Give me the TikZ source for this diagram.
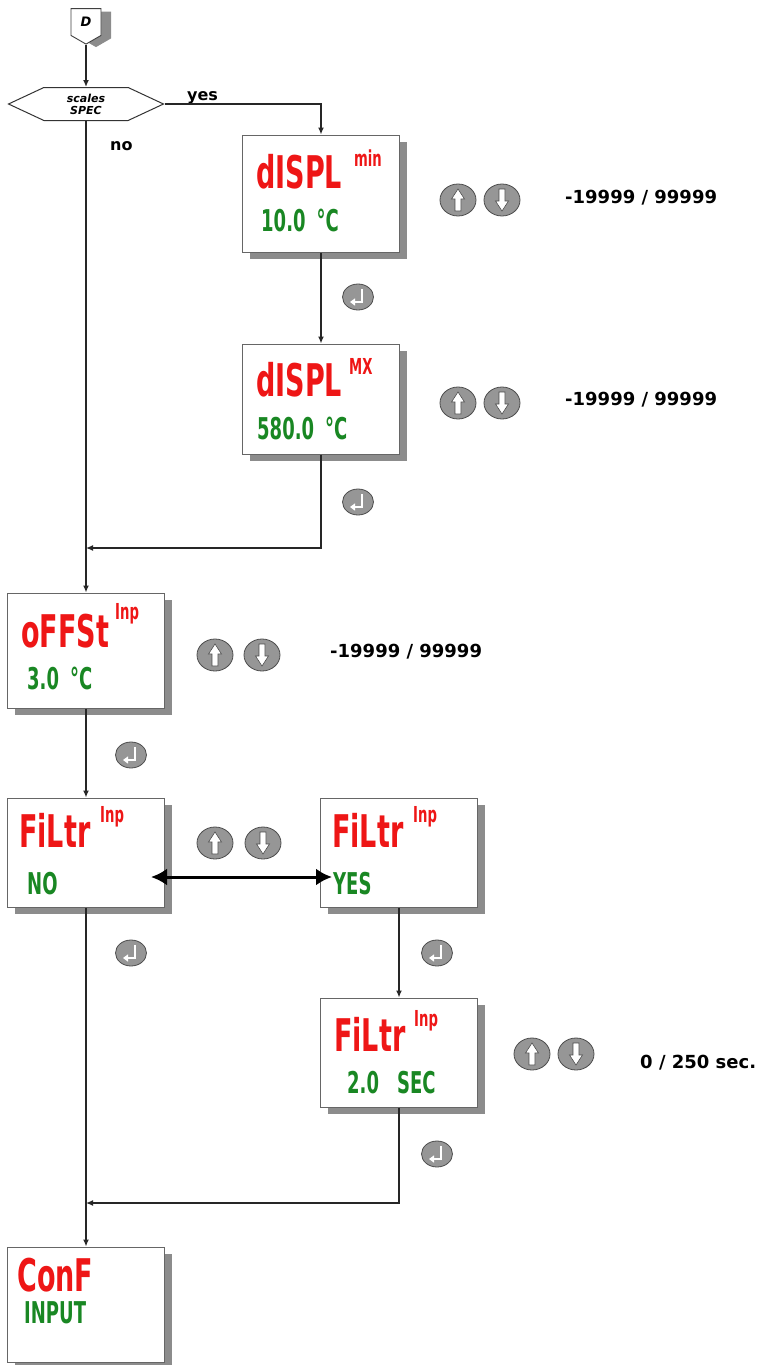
\documentclass[tikz,border=0pt]{standalone}
\usepackage{fontspec}
\setmainfont{DejaVu Sans}
\newfontfamily\lcd[FakeStretch=0.6]{DejaVu Sans}
\usetikzlibrary{arrows.meta,shapes.geometric,shapes.symbols,shadows}

\definecolor{lcdred}{RGB}{238,22,22}
\definecolor{lcdgreen}{RGB}{25,135,35}
\definecolor{btngray}{RGB}{150,150,150}

\tikzset{
  panel/.style={draw=black!60, line width=1pt, fill=white, minimum width=157pt, minimum height=#1, inner sep=0pt,
    drop shadow={shadow xshift=7pt, shadow yshift=-7pt, fill=black!45, opacity=1}},
  lcdtitle/.style={anchor=base west, inner sep=0pt, text=lcdred, font=\lcd\bfseries\fontsize{45}{45}\selectfont},
  lcdtag/.style={anchor=base west, inner sep=0pt, text=lcdred, font=\lcd\bfseries\fontsize{22}{22}\selectfont},
  reading/.style={anchor=base west, inner sep=0pt, text=lcdgreen, font=\lcd\bfseries\fontsize{30}{30}\selectfont},
  rangetxt/.style={anchor=base west, inner sep=0pt, font=\bfseries\fontsize{18}{18}\selectfont},
  answer/.style={anchor=base west, inner sep=0pt, font=\bfseries\fontsize{16}{16}\selectfont},
  btn/.style={ellipse, draw=black!70, line width=0.8pt, fill=btngray, minimum width=36pt, minimum height=32pt, inner sep=0pt},
  btnup/.style={btn, path picture={
      \draw[fill=white, draw=black!70, line width=0.6pt, shift={(path picture bounding box.center)}]
      (-3pt,-11pt) -- (3pt,-11pt) -- (3pt,1pt) -- (6.5pt,1pt) -- (0pt,11pt)
      -- (-6.5pt,1pt) -- (-3pt,1pt) -- cycle;}},
  btndown/.style={btn, path picture={
      \draw[fill=white, draw=black!70, line width=0.6pt, shift={(path picture bounding box.center)}]
      (-3pt,11pt) -- (3pt,11pt) -- (3pt,-1pt) -- (6.5pt,-1pt) -- (0pt,-11pt)
      -- (-6.5pt,-1pt) -- (-3pt,-1pt) -- cycle;}},
  enterbtn/.style={ellipse, draw=black!70, line width=0.8pt, fill=btngray, minimum width=31pt, minimum height=26pt, inner sep=0pt,
    path picture={
      \draw[white, line width=2pt, -{Triangle[length=5pt,width=7pt]}, shift={(path picture bounding box.center)}]
      (4pt,8pt) -- (4pt,-5pt) -- (-8pt,-5pt);}},
  conn/.style={signal, signal to=south, signal pointer angle=120, draw=black!75, line width=0.9pt, fill=white,
    minimum width=30pt, minimum height=30pt, inner sep=0pt,
    font=\bfseries\itshape\fontsize{13}{13}\selectfont,
    drop shadow={shadow xshift=10pt, shadow yshift=-3pt, fill=black!45, opacity=1}},
  decision/.style={signal, signal to=west and east, signal pointer angle=50, draw=black!80, line width=1pt, fill=white,
    minimum width=155pt, minimum height=33pt, inner sep=1pt, align=center,
    font=\bfseries\itshape\fontsize{11}{12}\selectfont},
  flow/.style={draw=black!85, line width=1.3pt, -{Latex[length=7pt,width=6pt]}},
  toggle/.style={line width=3pt, {Latex[length=16pt,width=17pt]}-{Latex[length=16pt,width=17pt]}}
}

\begin{document}
\begin{tikzpicture}[x=1pt, y=-1pt]

  \pgfmathsetmacro{\colL}{86}
  \pgfmathsetmacro{\colM}{321}
  \pgfmathsetmacro{\colR}{399}

  \useasboundingbox (0,0) rectangle (765,1365);

  \node[conn] (D) at (\colL,22) {D};
  \node[decision] (scales) at (\colL,104) {scales\\SPEC};

  \node[answer] (yes) at (187,100) {yes};
  \node[answer] (no) at (110,150) {no};

  % display boxes
  \node[panel=117pt] (dmin) at (\colM,193.5) {};
  \node[lcdtitle] (dminT) at ([shift={(14pt,-54pt)}]dmin.north west) {dISPL};
  \node[lcdtag] (dminS) at ([shift={(112pt,-32pt)}]dmin.north west) {min};
  \node[reading] (dminV) at ([shift={(19pt,-97pt)}]dmin.north west) {10.0\hspace{11pt}°C};

  \node[panel=110pt] (dmx) at (\colM,399) {};
  \node[lcdtitle] (dmxT) at ([shift={(14pt,-53pt)}]dmx.north west) {dISPL};
  \node[lcdtag] (dmxS) at ([shift={(107pt,-31pt)}]dmx.north west) {MX};
  \node[reading] (dmxV) at ([shift={(15pt,-96pt)}]dmx.north west) {580.0\hspace{11pt}°C};

  \node[panel=115pt] (off) at (\colL,650.5) {};
  \node[lcdtitle] (offT) at ([shift={(14pt,-55pt)}]off.north west) {oFFSt};
  \node[lcdtag] (offS) at ([shift={(108pt,-27pt)}]off.north west) {Inp};
  \node[reading] (offV) at ([shift={(20pt,-97pt)}]off.north west) {3.0\hspace{11pt}°C};

  \node[panel=109pt] (fno) at (\colL,852.5) {};
  \node[lcdtitle] (fnoT) at ([shift={(12pt,-50pt)}]fno.north west) {FiLtr};
  \node[lcdtag] (fnoS) at ([shift={(93pt,-25pt)}]fno.north west) {Inp};
  \node[reading] (fnoV) at ([shift={(20pt,-97pt)}]fno.north west) {NO};

  \node[panel=109pt] (fyes) at (\colR,852.5) {};
  \node[lcdtitle] (fyesT) at ([shift={(12pt,-50pt)}]fyes.north west) {FiLtr};
  \node[lcdtag] (fyesS) at ([shift={(93pt,-25pt)}]fyes.north west) {Inp};
  \node[reading] (fyesV) at ([shift={(13pt,-97pt)}]fyes.north west) {YES};

  \node[panel=109pt] (fsec) at (\colR,1052.5) {};
  \node[lcdtitle] (fsecT) at ([shift={(14pt,-54pt)}]fsec.north west) {FiLtr};
  \node[lcdtag] (fsecS) at ([shift={(94pt,-29pt)}]fsec.north west) {Inp};
  \node[reading] (fsecV) at ([shift={(27pt,-96pt)}]fsec.north west) {2.0\hspace{18pt}SEC};

  \node[panel=115pt] (conf) at (\colL,1304.5) {};
  \node[lcdtitle] (confT) at ([shift={(10pt,-45pt)}]conf.north west) {ConF};
  \node[reading] (confV) at ([shift={(17pt,-77pt)}]conf.north west) {INPUT};

  % keys
  \foreach \nm/\ux/\dx/\by in
  {dmin/458/502/200, dmx/458/502/403, off/215/262/655, fil/215/263/843, fsec/532/576/1054}
  {
    \node[btnup] (\nm-up) at (\ux,\by) {};
    \node[btndown] (\nm-down) at (\dx,\by) {};
  }
  \foreach \nm/\ex/\ey in
  {a/358/297, b/358/502, c/131/755, d/131/953, e/437/953, f/437/1154}
  {
    \node[enterbtn] (ent\nm) at (\ex,\ey) {};
  }

  \node[rangetxt] (dminR) at (565,203) {-19999 / 99999};
  \node[rangetxt] (dmxR) at (565,405) {-19999 / 99999};
  \node[rangetxt] (offR) at (330,657) {-19999 / 99999};
  \node[rangetxt] (fsecR) at (640,1068) {0 / 250 sec.};

  % connectors
  \coordinate (j1) at (\colL,548);
  \coordinate (j2) at (\colL,1203);

  \draw[flow] (D.south) -- (scales.north);
  \draw[flow] (scales.east) -| (dmin.north);
  \draw[flow] (dmin) -- (dmx);
  \draw[flow] (dmx.south) |- (j1);
  \draw[flow] (scales.south) -- (off.north);
  \draw[flow] (off) -- (fno);
  \draw[toggle] ([shift={(-14pt,-24.5pt)}]fno.east) -- ([shift={(12pt,-24.5pt)}]fyes.west);
  \draw[flow] (fyes) -- (fsec);
  \draw[flow] (fsec.south) |- (j2);
  \draw[flow] (fno.south) -- (conf.north);

\end{tikzpicture}
\end{document}
